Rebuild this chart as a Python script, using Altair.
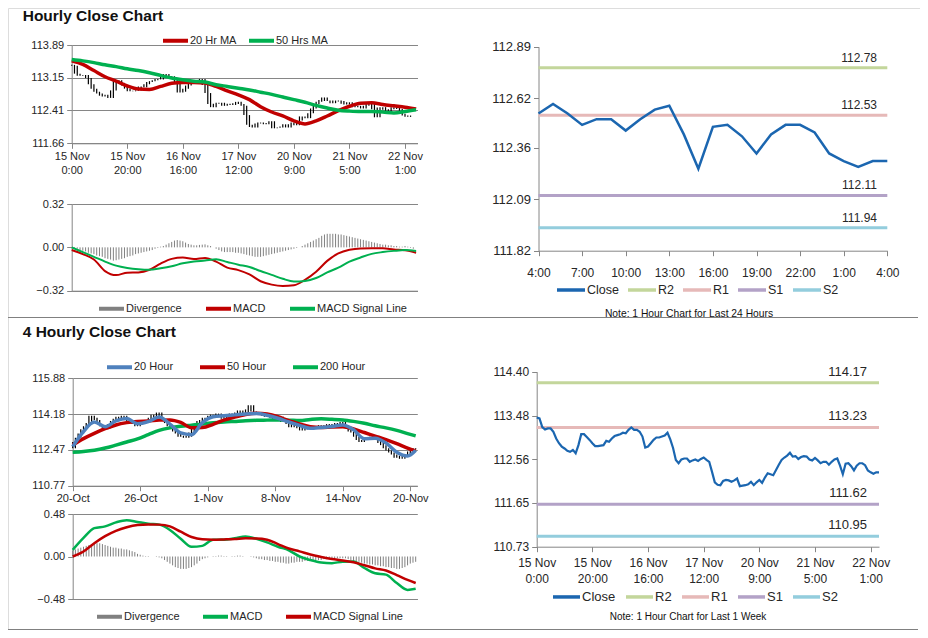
import json
import altair as alt
import pandas as pd

FONT = "Liberation Sans"
GRAY = "#868686"
INK = "#262626"
RED = "#C00000"
GREEN = "#00B050"
STEEL = "#4F81BD"
CLOSE_BLUE = "#1B66B0"
DIV_GRAY = "#808080"
LEVEL_NAMES = ["R2", "R1", "S1", "S2"]
LEVEL_COLORS = ["#C3D69B", "#E6B9B8", "#B3A2C7", "#93CDDD"]
W, H = 912, 622

# ------------------------------------------------------------------ data
# hourly close, last week (15 Nov 0:00 .. 22 Nov 4:00)
week_close = [
    113.44, 113.42, 113.24, 113.19, 113.21, 113.21, 113.14, 113.00, 112.90, 112.83,
    112.79, 112.74, 112.72, 112.76, 112.69, 112.86, 113.09, 113.09, 113.03, 112.97,
    112.90, 112.84, 112.84, 112.85, 112.86, 112.95, 112.93, 113.00, 113.05, 113.07,
    113.09, 113.12, 113.11, 113.18, 113.23, 113.18, 113.18, 113.14, 113.04, 112.81,
    112.83, 112.90, 112.97, 113.02, 113.02, 113.04, 113.06, 113.12, 112.98, 112.80,
    112.55, 112.48, 112.56, 112.58, 112.58, 112.51, 112.54, 112.56, 112.53, 112.57,
    112.60, 112.55, 112.51, 112.30, 112.08, 112.03, 112.02, 112.11, 112.13, 112.12,
    112.09, 112.12, 112.16, 112.00, 112.01, 112.02, 112.04, 112.09, 112.02, 112.08,
    112.13, 112.07, 112.18, 112.27, 112.25, 112.23, 112.34, 112.45, 112.55, 112.60,
    112.64, 112.70, 112.62, 112.63, 112.57, 112.61, 112.63, 112.62, 112.56, 112.54,
    112.59, 112.54, 112.48, 112.51, 112.51, 112.45, 112.51, 112.56, 112.58, 112.43,
    112.25, 112.47, 112.48, 112.42, 112.33, 112.43, 112.48, 112.48, 112.44, 112.33,
    112.29, 112.26, 112.29, 112.29,
]
week_ticks = [0, 20, 40, 60, 80, 100, 120]
week_tick_labels = [["15 Nov", "0:00"], ["15 Nov", "20:00"], ["16 Nov", "16:00"],
                    ["17 Nov", "12:00"], ["20 Nov", "9:00"], ["21 Nov", "5:00"],
                    ["22 Nov", "1:00"]]

ma_hours = list(range(0, 125, 4))
ma20_hourly = [113.53, 113.45, 113.31, 113.17, 113.07, 112.96, 112.89, 112.88, 112.95, 113.02,
               113.04, 113.04, 113.03, 112.95, 112.85, 112.76, 112.65, 112.49, 112.37, 112.28,
               112.17, 112.10, 112.17, 112.28, 112.40, 112.50, 112.57, 112.58, 112.54, 112.51,
               112.48, 112.44]
ma50_hourly = [113.56, 113.53, 113.49, 113.44, 113.40, 113.35, 113.31, 113.26, 113.20, 113.14,
               113.10, 113.07, 113.05, 112.99, 112.95, 112.91, 112.87, 112.82, 112.77, 112.71,
               112.65, 112.59, 112.52, 112.46, 112.41, 112.39, 112.38, 112.38, 112.37, 112.35,
               112.38, 112.42]
macd_hourly = [-0.02, -0.05, -0.09, -0.175, -0.205, -0.187, -0.185, -0.165, -0.12, -0.085,
               -0.075, -0.086, -0.078, -0.105, -0.15, -0.168, -0.20, -0.25, -0.275, -0.285,
               -0.28, -0.24, -0.18, -0.10, -0.045, -0.018, -0.008, -0.007, -0.007, -0.016,
               -0.022, -0.04]
signal_hourly = [0.0, -0.035, -0.07, -0.105, -0.135, -0.152, -0.162, -0.166, -0.155, -0.14,
                 -0.118, -0.105, -0.097, -0.088, -0.108, -0.128, -0.145, -0.175, -0.203, -0.232,
                 -0.252, -0.248, -0.226, -0.185, -0.15, -0.105, -0.075, -0.048, -0.035, -0.026,
                 -0.02, -0.027]
divergence_hourly = [
    0.0, -0.005, -0.01, -0.02, -0.025, -0.03, -0.04, -0.045, -0.05, -0.06,
    -0.065, -0.07, -0.08, -0.085, -0.09, -0.098, -0.095, -0.09, -0.085, -0.08,
    -0.07, -0.065, -0.06, -0.05, -0.045, -0.04, -0.035, -0.03, -0.025, -0.02,
    -0.01, -0.005, 0.005, 0.01, 0.02, 0.03, 0.04, 0.05, 0.054, 0.05,
    0.045, 0.035, 0.025, 0.02, 0.015, 0.015, 0.018, 0.02, 0.022, 0.015,
    0.01, 0.0, -0.01, -0.02, -0.03, -0.035, -0.035, -0.035, -0.035, -0.04,
    -0.04, -0.045, -0.05, -0.055, -0.06, -0.065, -0.07, -0.07, -0.07, -0.065,
    -0.06, -0.055, -0.05, -0.045, -0.04, -0.035, -0.03, -0.025, -0.02, -0.015,
    -0.01, -0.005, 0.0, 0.01, 0.02, 0.03, 0.04, 0.05, 0.06, 0.07,
    0.085, 0.095, 0.1, 0.1, 0.1, 0.1, 0.095, 0.095, 0.09, 0.085,
    0.08, 0.075, 0.07, 0.065, 0.06, 0.055, 0.05, 0.045, 0.04, 0.035,
    0.03, 0.025, 0.02, 0.02, 0.015, 0.015, 0.01, 0.01, 0.005, 0.005,
    0.01, 0.005, -0.005, -0.01,
]
price_ticks_hourly = [111.66, 112.41, 113.15, 113.89]
macd_ticks_hourly = [-0.32, 0.0, 0.32]

# last 24 hours (the last 25 hourly closes of the week)
day_close = week_close[-25:]
day_ticks = list(range(0, 25, 3))
day_tick_labels = ["4:00", "7:00", "10:00", "13:00", "16:00", "19:00", "22:00", "1:00", "4:00"]
day_price_ticks = [111.82, 112.09, 112.36, 112.62, 112.89]
day_levels = [112.78, 112.53, 112.11, 111.94]

week_price_ticks = [110.73, 111.65, 112.56, 113.48, 114.40]
week_levels = [114.17, 113.23, 111.62, 110.95]

# 4-hourly (20 Oct .. 22 Nov)
fh_close = [
    112.55, 112.85, 113.05, 113.25, 113.45, 113.60, 113.75, 114.10, 114.00, 113.90,
    113.70, 113.60, 113.45, 113.50, 113.70, 113.85, 113.95, 114.05, 113.90, 114.10,
    113.95, 113.85, 113.80, 113.70, 113.60, 113.70, 113.80, 113.75, 113.90, 114.00,
    114.15, 114.00, 114.25, 113.95, 113.85, 113.75, 113.60, 113.55, 113.35, 113.25,
    113.10, 113.15, 113.05, 113.10, 113.30, 113.50, 113.65, 113.85, 113.90, 114.00,
    113.95, 114.10, 114.15, 114.05, 114.20, 114.10, 113.95, 114.10, 114.15, 114.20,
    114.10, 114.25, 114.35, 114.20, 114.25, 114.40, 114.60, 114.30, 114.25, 114.15,
    114.20, 114.10, 114.05, 114.15, 114.00, 113.95, 113.90, 114.05, 113.80, 113.85,
    113.70, 113.55, 113.65, 113.75, 113.50, 113.40, 113.55, 113.60, 113.45, 113.55,
    113.60, 113.50, 113.65, 113.55, 113.60, 113.70, 113.55, 113.65, 113.75, 113.70,
    113.80, 113.60, 113.50, 113.35, 113.30, 113.10, 112.95, 112.85, 112.95, 113.05,
    113.00, 113.10, 113.00, 112.95, 112.80, 112.70, 112.55, 112.45, 112.35, 112.25,
    112.10, 112.20, 112.05, 112.15, 112.25, 112.40, 112.55, 112.50,
]
fh_ticks = [0, 25, 50, 75, 100, 125]
fh_tick_labels = ["20-Oct", "26-Oct", "1-Nov", "8-Nov", "14-Nov", "20-Nov"]
fh_ma_idx = list(range(0, 125, 4)) + [127]
fh_ma20 = [112.63, 113.35, 113.80, 113.58, 113.85, 113.97, 113.72, 113.82, 114.04, 113.70,
           113.28, 113.20, 113.77, 114.05, 114.10, 114.14, 114.18, 114.20, 114.12, 113.98,
           113.80, 113.64, 113.50, 113.54, 113.59, 113.66, 113.43, 113.00, 113.03, 112.80,
           112.36, 112.18, 112.45]
fh_ma50 = [112.71, 113.01, 113.26, 113.48, 113.66, 113.77, 113.83, 113.85, 113.89, 113.90,
           113.78, 113.53, 113.54, 113.69, 113.89, 114.04, 114.16, 114.22, 114.18, 114.05,
           113.86, 113.71, 113.58, 113.54, 113.56, 113.57, 113.47, 113.30, 113.13, 112.96,
           112.77, 112.56, 112.43]
fh_ma200 = [112.36, 112.40, 112.46, 112.56, 112.70, 112.85, 113.00, 113.20, 113.40, 113.52,
            113.60, 113.65, 113.70, 113.76, 113.80, 113.83, 113.86, 113.88, 113.89, 113.90,
            113.89, 113.87, 113.92, 113.95, 113.93, 113.90, 113.83, 113.74, 113.62, 113.52,
            113.40, 113.25, 113.14]
fh_macd = [0.075, 0.21, 0.32, 0.34, 0.385, 0.41, 0.39, 0.37, 0.36, 0.30,
           0.20, 0.11, 0.12, 0.19, 0.19, 0.205, 0.225, 0.20, 0.16, 0.11,
           0.07, 0.0, -0.04, -0.068, -0.075, -0.058, -0.056, -0.13, -0.19, -0.205,
           -0.30, -0.377, -0.365]
fh_signal = [0.0, 0.056, 0.15, 0.23, 0.29, 0.33, 0.355, 0.362, 0.36, 0.34,
             0.28, 0.22, 0.194, 0.19, 0.193, 0.197, 0.205, 0.204, 0.19, 0.14,
             0.09, 0.058, 0.022, -0.005, -0.028, -0.044, -0.066, -0.098, -0.134, -0.158,
             -0.21, -0.265, -0.30]
fh_divergence = [
    0.07, 0.08, 0.09, 0.10, 0.11, 0.12, 0.13, 0.14, 0.15, 0.15,
    0.15, 0.14, 0.13, 0.12, 0.11, 0.10, 0.10, 0.09, 0.09, 0.08,
    0.08, 0.07, 0.06, 0.05, 0.03, 0.02, 0.01, 0.005, 0.005, 0.0,
    0.0, -0.005, -0.01, -0.02, -0.04, -0.06, -0.08, -0.10, -0.12, -0.13,
    -0.14, -0.14, -0.14, -0.13, -0.12, -0.10, -0.08, -0.05, -0.03, -0.02,
    -0.01, 0.0, 0.005, 0.005, 0.01, 0.01, 0.005, 0.005, 0.0, 0.005,
    0.005, 0.01, 0.01, 0.005, 0.0, 0.0, -0.005, -0.01, -0.02, -0.03,
    -0.03, -0.04, -0.04, -0.05, -0.05, -0.06, -0.06, -0.07, -0.07, -0.08,
    -0.08, -0.07, -0.07, -0.06, -0.06, -0.06, -0.05, -0.05, -0.05, -0.04,
    -0.04, -0.04, -0.04, -0.03, -0.03, -0.03, -0.03, -0.02, -0.02, -0.02,
    -0.02, -0.02, -0.03, -0.04, -0.05, -0.05, -0.06, -0.07, -0.08, -0.08,
    -0.09, -0.09, -0.10, -0.10, -0.11, -0.11, -0.12, -0.12, -0.13, -0.13,
    -0.14, -0.14, -0.13, -0.12, -0.10, -0.08, -0.07, -0.06,
]
fh_price_ticks = [110.77, 112.47, 114.18, 115.88]
fh_macd_ticks = [-0.48, 0.0, 0.48]


# ------------------------------------------------------------------ helpers
def long(xs, named):
    rows = []
    for name, vals in named:
        for x, v in zip(xs, vals):
            rows.append({"x": x, "y": v, "series": name})
    return pd.DataFrame(rows)


def sc(domain, rng):
    return alt.Scale(domain=list(domain), range=list(rng), nice=False, zero=False)


def lab_expr(ticks, labels):
    return f"{json.dumps(labels)}[indexof({json.dumps(ticks)}, datum.value)]"


def xaxis(bottom, values=None, expr=None, size=11, labels=True, ticks=True, pad=2,
          line_h=None):
    kw = dict(orient="bottom", offset=bottom - H, title=None, grid=False,
              domainColor=GRAY, domainWidth=1, tickColor=GRAY, tickSize=5,
              labels=labels, ticks=ticks, labelFont=FONT, labelFontSize=size,
              labelColor=INK, labelPadding=pad, labelFlush=False, labelOverlap=False,
              labelBound=False, labelLineHeight=line_h or size + 3)
    if values is not None:
        kw["values"] = values
    if expr is not None:
        kw["labelExpr"] = expr
    return alt.Axis(**kw)


def yaxis(left, values, size=11, grid=True, hide_zero=False):
    kw = dict(orient="left", offset=-left, values=values, format=".2f", title=None,
              labelFont=FONT, labelFontSize=size, labelColor=INK, labelPadding=3,
              domainColor=GRAY, domainWidth=1, tickColor=GRAY, tickSize=5,
              grid=grid, gridColor=GRAY, gridWidth=1, labelOverlap=False,
              labelFlush=False, labelBound=False)
    if hide_zero:
        kw["gridOpacity"] = {"condition": {"test": "datum.value === 0", "value": 0}, "value": 1}
    return alt.Axis(**kw)


def legend(x, y, size, sym_len, sym_w, pad):
    return alt.Legend(orient="none", legendX=x, legendY=y, direction="horizontal",
                      title=None, symbolType="stroke", symbolSize=sym_len ** 2,
                      symbolStrokeWidth=sym_w, labelFont=FONT, labelFontSize=size,
                      labelColor=INK, labelOffset=0, columnPadding=pad, padding=0,
                      rowPadding=0)


def hilo(df, xs, ys, ax_x, ax_y):
    # rolling high/low of the closes around each bar
    return (alt.Chart(df)
            .transform_window(lo="min(close)", hi="max(close)", frame=[-1, 1],
                              sort=[alt.SortField("x")])
            .mark_rule(color="black", strokeWidth=1.2)
            .encode(x=alt.X("x:Q", scale=xs, axis=ax_x),
                    y=alt.Y("lo:Q", scale=ys, axis=ax_y),
                    y2="hi:Q"))


def text_block(txt, x, y, size, weight="normal", align="left"):
    return (alt.Chart(pd.DataFrame({"t": [txt]}))
            .mark_text(align=align, baseline="alphabetic", font=FONT, fontSize=size,
                       fontWeight=weight, color="#111111")
            .encode(x=alt.value(x), y=alt.value(y), text="t:N"))


def level_panel(close_vals, levels, xs, ys, ax_x, ax_y, cscale, lg, line_w, label_x,
                label_dy, label_size):
    n = len(close_vals)
    cdf = pd.DataFrame({"x": list(range(n)), "y": close_vals, "series": "Close"})
    ldf = pd.DataFrame({"series": LEVEL_NAMES, "y": levels,
                        "start": 0, "end": n - 1,
                        "label": [f"{v:.2f}" for v in levels]})
    color = alt.Color("series:N", scale=cscale, legend=lg)
    rules = alt.Chart(ldf).mark_rule(strokeWidth=3).encode(
        x=alt.X("start:Q", scale=xs, axis=ax_x), x2="end:Q",
        y=alt.Y("y:Q", scale=ys, axis=ax_y), color=color)
    labels = alt.Chart(ldf).mark_text(
        align="right", baseline="alphabetic", dy=label_dy, font=FONT,
        fontSize=label_size, color=INK).encode(
        x=alt.value(label_x), y=alt.Y("y:Q", scale=ys, axis=ax_y), text="label:N")
    line = alt.Chart(cdf).mark_line(strokeWidth=line_w).encode(
        x=alt.X("x:Q", scale=xs, axis=ax_x), y=alt.Y("y:Q", scale=ys, axis=ax_y),
        color=color)
    return alt.layer(rules, labels, line)


# ------------------------------------------------------------------ panel 1: hourly price
x1 = sc([0, 124.5], [63.7, 409.5])
y1 = sc([price_ticks_hourly[0], price_ticks_hourly[-1]], [135.3, 37.0])
ax1x = xaxis(135.3, week_ticks, lab_expr(week_ticks, week_tick_labels), 11)
ax1y = yaxis(63.7, price_ticks_hourly, 11, grid=True)
c1 = alt.Scale(domain=["20 Hr MA", "50 Hrs MA"], range=[RED, GREEN])
lg1 = legend(153, 18, 11, 25, 4, 4)
week_df = pd.DataFrame({"x": list(range(len(week_close))), "close": week_close})
p1 = alt.layer(
    hilo(week_df, x1, y1, ax1x, ax1y),
    alt.Chart(long(ma_hours, [("20 Hr MA", ma20_hourly), ("50 Hrs MA", ma50_hourly)]))
    .mark_line(strokeWidth=3.5, interpolate="monotone")
    .encode(x=alt.X("x:Q", scale=x1, axis=ax1x), y=alt.Y("y:Q", scale=y1, axis=ax1y),
            color=alt.Color("series:N", scale=c1, legend=lg1)),
)

# ------------------------------------------------------------------ panel 2: hourly MACD
y2s = sc([macd_ticks_hourly[0], macd_ticks_hourly[-1]], [282.7, 196.0])
ax2x = xaxis(282.7, labels=False, ticks=False)
ax2y = yaxis(63.7, macd_ticks_hourly, 11, grid=True, hide_zero=True)
c2 = alt.Scale(domain=["Divergence", "MACD", "MACD Signal Line"], range=[DIV_GRAY, RED, GREEN])
lg2 = legend(89, 286, 11, 25, 4, 16)
div_df = pd.DataFrame({"x": list(range(len(divergence_hourly))), "y": divergence_hourly,
                       "series": "Divergence"})
p2 = alt.layer(
    alt.Chart(div_df).mark_rule(strokeWidth=1).encode(
        x=alt.X("x:Q", scale=x1, axis=ax2x), y=alt.Y("y:Q", scale=y2s, axis=ax2y),
        y2=alt.datum(0), color=alt.Color("series:N", scale=c2, legend=lg2)),
    alt.Chart(long(ma_hours, [("MACD", macd_hourly), ("MACD Signal Line", signal_hourly)]))
    .mark_line(strokeWidth=2, interpolate="monotone")
    .encode(x=alt.X("x:Q", scale=x1, axis=ax2x), y=alt.Y("y:Q", scale=y2s, axis=ax2y),
            color=alt.Color("series:N", scale=c2, legend=lg2)),
)

# ------------------------------------------------------------------ panel 3: last 24 hours
x3 = sc([0, len(day_close) - 1], [530.5, 879.3])
y3 = sc([day_price_ticks[0], day_price_ticks[-1]], [242.7, 38.7])
ax3x = xaxis(242.7, day_ticks, lab_expr(day_ticks, day_tick_labels), 12, pad=12)
ax3y = yaxis(530.5, day_price_ticks, 13, grid=False)
c3 = alt.Scale(domain=["Close"] + LEVEL_NAMES, range=[CLOSE_BLUE] + LEVEL_COLORS)
lg3 = legend(547, 266, 12.5, 28, 3.5, 2)
p3 = level_panel(day_close, day_levels, x3, y3, ax3x, ax3y, c3, lg3, 2.5, 869, -6, 12)

# ------------------------------------------------------------------ panel 4: 4-hourly price
x4 = sc([0, 127.6], [64.7, 409.3])
y4 = sc([fh_price_ticks[0], fh_price_ticks[-1]], [477.7, 370.3])
ax4x = xaxis(477.7, fh_ticks, lab_expr(fh_ticks, fh_tick_labels), 11)
ax4y = yaxis(64.7, fh_price_ticks, 11, grid=True)
c4 = alt.Scale(domain=["20 Hour", "50 Hour", "200 Hour"], range=[STEEL, RED, GREEN])
lg4 = legend(97, 344.5, 11, 25, 4, 18)
fh_df = pd.DataFrame({"x": list(range(len(fh_close))), "close": fh_close})
fh_lines = long(fh_ma_idx, [("200 Hour", fh_ma200), ("50 Hour", fh_ma50), ("20 Hour", fh_ma20)])
p4 = alt.layer(
    hilo(fh_df, x4, y4, ax4x, ax4y),
    alt.Chart(fh_lines).mark_line(strokeWidth=3.5, interpolate="monotone").encode(
        x=alt.X("x:Q", scale=x4, axis=ax4x), y=alt.Y("y:Q", scale=y4, axis=ax4y),
        color=alt.Color("series:N", scale=c4, legend=lg4),
        order=alt.Order("x:Q")),
)

# ------------------------------------------------------------------ panel 5: 4-hourly MACD
y5 = sc([fh_macd_ticks[0], fh_macd_ticks[-1]], [591.0, 506.0])
ax5x = xaxis(591.0, labels=False, ticks=False)
ax5y = yaxis(64.7, fh_macd_ticks, 11, grid=True, hide_zero=True)
c5 = alt.Scale(domain=["Divergence", "MACD", "MACD Signal Line"], range=[DIV_GRAY, GREEN, RED])
lg5 = legend(87, 594, 11, 25, 4, 15)
fdiv_df = pd.DataFrame({"x": list(range(len(fh_divergence))), "y": fh_divergence,
                        "series": "Divergence"})
p5 = alt.layer(
    alt.Chart(fdiv_df).mark_rule(strokeWidth=1).encode(
        x=alt.X("x:Q", scale=x4, axis=ax5x), y=alt.Y("y:Q", scale=y5, axis=ax5y),
        y2=alt.datum(0), color=alt.Color("series:N", scale=c5, legend=lg5)),
    alt.Chart(long(fh_ma_idx, [("MACD", fh_macd), ("MACD Signal Line", fh_signal)]))
    .mark_line(strokeWidth=2.5, interpolate="monotone")
    .encode(x=alt.X("x:Q", scale=x4, axis=ax5x), y=alt.Y("y:Q", scale=y5, axis=ax5y),
            color=alt.Color("series:N", scale=c5, legend=lg5)),
)

# ------------------------------------------------------------------ panel 6: last week
x6 = sc([0, len(week_close) - 1], [528.7, 871.0])
y6 = sc([week_price_ticks[0], week_price_ticks[-1]], [538.7, 363.7])
ax6x = xaxis(538.7, week_ticks, lab_expr(week_ticks, week_tick_labels), 12, pad=6, line_h=16)
ax6y = yaxis(528.7, week_price_ticks, 12, grid=False)
c6 = alt.Scale(domain=["Close"] + LEVEL_NAMES, range=[CLOSE_BLUE] + LEVEL_COLORS)
lg6 = legend(543, 573.2, 13, 27, 3.5, 3)
p6 = level_panel(week_close, week_levels, x6, y6, ax6x, ax6y, c6, lg6, 2.2, 859, -7, 13)

# ------------------------------------------------------------------ decorations
sep1 = alt.Chart(pd.DataFrame({"k": [0]})).mark_rule(color="#808080", strokeWidth=1).encode(
    x=alt.value(0), x2=alt.value(910), y=alt.value(309.5))
sep2 = alt.Chart(pd.DataFrame({"k": [0]})).mark_rule(color="#808080", strokeWidth=1).encode(
    x=alt.value(0), x2=alt.value(910), y=alt.value(621.5))
deco = [
    text_block("Hourly Close Chart", 14.7, 12.5, 15.5, "bold"),
    text_block("4 Hourly Close Chart", 14.7, 329.3, 15.5, "bold"),
    text_block("Note: 1 Hour Chart for Last 24 Hours", 681, 309, 10.3, align="center"),
    text_block("Note: 1 Hour Chart for Last 1 Week", 680, 611.5, 10, align="center"),
    sep1, sep2,
]

chart = (
    alt.layer(p1, p2, p3, p4, p5, p6, *deco)
    .resolve_scale(x="independent", y="independent", color="independent")
    .resolve_axis(x="independent", y="independent")
    .resolve_legend(color="independent")
    .properties(width=W, height=H, padding=0,
                autosize=alt.AutoSizeParams(type="none"))
    .configure_view(stroke=None)
    .configure(font=FONT)
)

chart.save("out.html", embed_options={"renderer": "svg", "actions": False})
